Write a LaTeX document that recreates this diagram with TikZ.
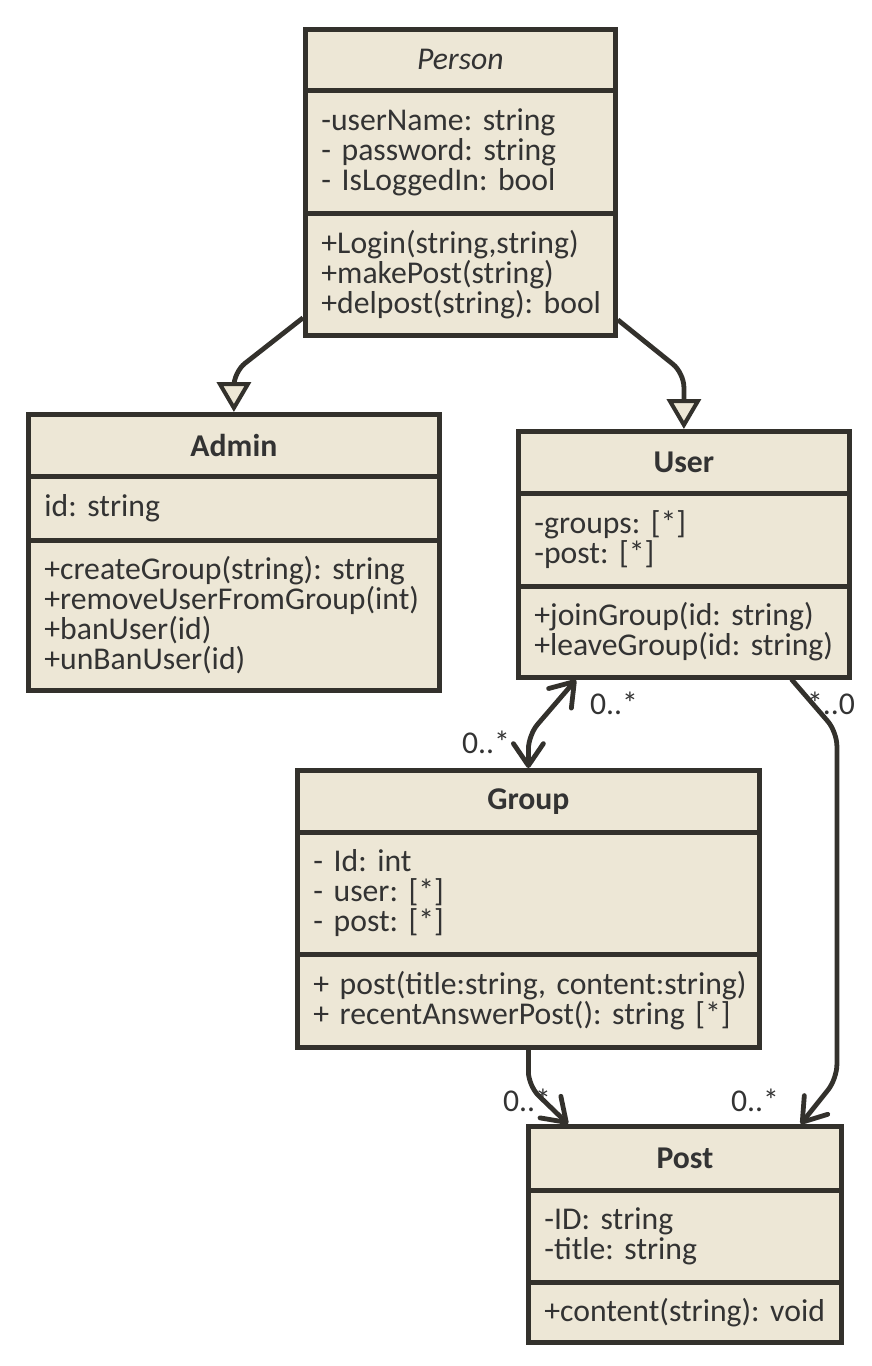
\documentclass[tikz,border=0pt]{standalone}
\usepackage{fontspec}
\setmainfont{Carlito}
\usepackage{tikz}
\usetikzlibrary{arrows.meta}
\usetikzlibrary{positioning}
\usetikzlibrary{calc}
\definecolor{umlline}{RGB}{51,49,44}
\definecolor{umlfill}{RGB}{237,231,214}
\definecolor{umltext}{RGB}{51,51,51}
\newcommand{\umlfont}{\fontsize{31.7}{30}\selectfont\frenchspacing}
\tikzstyle{classpart}=[draw=umlline, fill=umlfill, line width=4.8pt, anchor=north west, inner xsep=16pt, inner ysep=0pt, align=left, text=umltext, font=\umlfont]
\tikzstyle{classtitle}=[classpart, align=center]
\tikzstyle{inherit}=[draw=umlline, line width=4.8pt, rounded corners=14pt, -{Triangle[length=30pt,width=34pt,fill=umlfill,line width=4pt]}]
\tikzstyle{assoc}=[draw=umlline, line width=4.8pt, rounded corners=14pt, line cap=round]
\tikzstyle{mult}=[text=umltext, font=\umlfont, inner sep=0pt]

\begin{document}
\begin{tikzpicture}[x=1pt, y=-1pt]
    \useasboundingbox (0,0) rectangle (872,1366);

    % multiplicities first, the lines run over them
    \node[mult] (m1) at (614,703) {0..*};
    \node[mult] (m2) at (486,742) {0..*};
    \node[mult] (m3) at (831,703) {*..0};
    \node[mult] (m4) at (527,1100) {0..*};
    \node[mult] (m5) at (755,1100) {0..*};

    % Person
    \node[classtitle, text width=278pt, minimum height=61pt] (PersonT) at (303,27) {\itshape Person};
    \node[classpart, text width=278pt, minimum height=123pt] (PersonA) at (303,88) {-userName: string\\- password: string\\- IsLoggedIn: bool};
    \node[classpart, text width=278pt, minimum height=122pt] (PersonM) at (303,211) {+Login(string,string)\\+makePost(string)\\\mbox{+delpost(string): bool}};

    % Admin
    \node[classtitle, text width=379pt, minimum height=62pt] (AdminT) at (26,412) {\bfseries Admin};
    \node[classpart, text width=379pt, minimum height=64pt] (AdminA) at (26,474) {id: string};
    \node[classpart, text width=379pt, minimum height=150pt] (AdminM) at (26,538) {+createGroup(string): string\\+removeUserFromGroup(int)\\+banUser(id)\\+unBanUser(id)};

    % User
    \node[classtitle, text width=299pt, minimum height=62pt] (UserT) at (516,429) {\bfseries User};
    \node[classpart, text width=299pt, minimum height=93pt] (UserA) at (516,491) {-groups: [*]\\-post: [*]};
    \node[classpart, text width=299pt, minimum height=91pt] (UserM) at (516,584) {\mbox{+joinGroup(id: string)}\\\mbox{+leaveGroup(id: string)}};

    % Group
    \node[classtitle, text width=430pt, minimum height=62pt] (GroupT) at (295,768) {\bfseries Group};
    \node[classpart, text width=430pt, minimum height=122pt] (GroupA) at (295,830) {- Id: int\\- user: [*]\\- post: [*]};
    \node[classpart, text width=430pt, minimum height=93pt] (GroupM) at (295,952) {\mbox{+ post(title:string, content:string)}\\\mbox{+ recentAnswerPost(): string [*]}};

    % Post
    \node[classtitle, text width=281pt, minimum height=64pt] (PostT) at (526,1124) {\bfseries Post};
    \node[classpart, text width=281pt, minimum height=92pt] (PostA) at (526,1188) {-ID: string\\-title: string};
    \node[classpart, text width=281pt, minimum height=60pt] (PostM) at (526,1280) {\mbox{+content(string): void}};

    % generalisation
    \path[inherit] ([yshift=20pt]PersonM.south west) -- ([yshift=40pt]AdminT.north) -- (AdminT.north);
    \path[inherit] ([yshift=18pt]PersonM.south east) -- ([yshift=56pt]UserT.north) -- (UserT.north);

    % associations
    \path[assoc, {Straight Barb[length=22pt,width=30pt,round]}-{Straight Barb[length=22pt,width=30pt,round]}] ([xshift=-108pt]UserM.south) -- ([yshift=33pt]GroupT.north) -- (GroupT.north);
    \path[assoc, -{Straight Barb[length=22pt,width=30pt,round]}] ([xshift=108pt]UserM.south) -- ++(45,52) -- ++(0,347) -- ([xshift=-43pt]PostT.north east);
    \path[assoc, -{Straight Barb[length=22pt,width=30pt,round]}] (GroupM.south) -- ++(0,36) -- ([xshift=42pt]PostT.north west);

\end{tikzpicture}
\end{document}
